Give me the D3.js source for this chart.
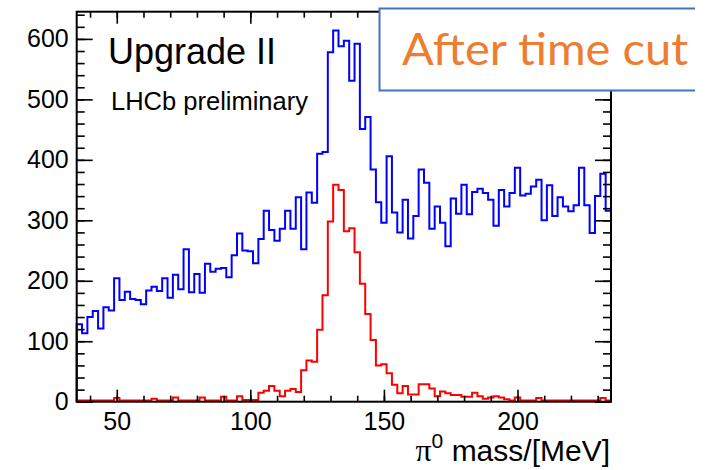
<!DOCTYPE html>
<html>
<head>
<meta charset="utf-8">
<script src="https://cdn.jsdelivr.net/npm/d3@7"></script>
<style>
  body { margin: 0; background: #fff; }
</style>
</head>
<body>
<div id="plot"></div>
<script>
// pi0 mass histograms, 100 bins of 2 MeV from 35 to 235
var binLow = 35;
var binWidth = 2;

// before time cut (blue)
var allCandidates = [128, 113, 140, 150, 121, 156, 151, 204, 168, 182,
                     170, 168, 161, 184, 190, 183, 204, 172, 210, 186,
                     252, 181, 211, 180, 228, 215, 220, 221, 206, 242,
                     278, 250, 249, 229, 269, 316, 284, 266, 286, 316,
                     286, 338, 252, 346, 329, 410, 413, 578, 614, 588,
                     597, 531, 592, 451, 471, 384, 330, 296, 406, 313,
                     280, 334, 270, 307, 384, 362, 286, 323, 296, 257,
                     336, 311, 359, 310, 347, 352, 345, 334, 291, 350,
                     323, 345, 387, 341, 344, 356, 367, 300, 358, 307,
                     338, 323, 315, 325, 387, 325, 279, 340, 377, 316];

// matched / signal-like (red)
var matchedCandidates = [2, 2, 2, 2, 2, 2, 2, 6, 2, 2,
                         2, 2, 2, 2, 5, 2, 2, 2, 7, 2,
                         2, 2, 2, 7, 2, 2, 2, 8, 2, 2,
                         9, 3, 3, 3, 15, 18, 26, 18, 9, 18,
                         21, 16, 52, 68, 66, 119, 176, 298, 359, 350,
                         282, 287, 247, 195, 145, 102, 60, 62, 47, 28,
                         14, 26, 12, 12, 29, 29, 22, 9, 17, 14,
                         11, 11, 8, 8, 15, 9, 5, 7, 9, 7,
                         4, 2, 7, 2, 2, 2, 6, 2, 2, 2,
                         2, 2, 2, 2, 2, 2, 2, 2, 6, 2];

var xMajorTicks = [50, 100, 150, 200];
var xMinorTicks = d3.range(40, 235, 10);
var yMajorTicks = [0, 100, 200, 300, 400, 500, 600];
var yMinorTicks = d3.range(0, 645, 20);

var width = 707;
var height = 470;
var frame = {left: 76.7, right: 611, top: 11.7, bottom: 401.7};

var svg = d3.select("#plot").append("svg")
    .attr("width", width)
    .attr("height", height)
    .style("display", "block");

var x = d3.scaleLinear().domain([35, 235]).range([frame.left, frame.right]);
var y = d3.scaleLinear().domain([0, 645]).range([frame.bottom, frame.top]);

// turn bin contents into an outline that starts and ends on zero
function outline(values) {
    var pts = [[binLow, 0]];
    values.forEach(function(v, i) { pts.push([binLow + i * binWidth, v]); });
    pts.push([binLow + values.length * binWidth, values[values.length - 1]]);
    pts.push([binLow + values.length * binWidth, 0]);
    return pts;
}

var stepLine = d3.line()
    .x(d => x(d[0]))
    .y(d => y(d[1]))
    .curve(d3.curveStepAfter);

svg.append("path")
    .attr("d", stepLine(outline(allCandidates)))
    .attr("fill", "none")
    .attr("stroke", "#0000ff")
    .attr("stroke-width", 2);

svg.append("path")
    .attr("d", stepLine(outline(matchedCandidates)))
    .attr("fill", "none")
    .attr("stroke", "#ff0000")
    .attr("stroke-width", 2);

// ticks point inwards on all four sides, like ROOT
var font = "'Liberation Sans', Arial, Helvetica, sans-serif";
var plotW = frame.right - frame.left;
var plotH = frame.bottom - frame.top;

function addAxis(axis, tx, ty, labels) {
    var g = svg.append("g")
        .attr("transform", "translate(" + tx + "," + ty + ")")
        .call(axis);
    g.select(".domain").remove();
    g.selectAll("line").attr("stroke", "#000").attr("stroke-width", 1.6);
    g.selectAll("text")
        .style("font-family", font)
        .style("font-size", "25px")
        .attr("fill", "#000");
    if (!labels) g.selectAll("text").remove();
    return g;
}

// bottom
addAxis(d3.axisBottom(x).tickValues(xMinorTicks).tickSize(-6), 0, frame.bottom, false);
addAxis(d3.axisBottom(x).tickValues(xMajorTicks).tickSize(-12).tickPadding(11), 0, frame.bottom, true);
// top
addAxis(d3.axisTop(x).tickValues(xMinorTicks).tickSize(-6), 0, frame.top, false);
addAxis(d3.axisTop(x).tickValues(xMajorTicks).tickSize(-12), 0, frame.top, false);
// left
addAxis(d3.axisLeft(y).tickValues(yMinorTicks).tickSize(-8), frame.left, 0, false);
addAxis(d3.axisLeft(y).tickValues(yMajorTicks).tickSize(-16).tickPadding(8), frame.left, 0, true);
// right
addAxis(d3.axisRight(y).tickValues(yMinorTicks).tickSize(-8), frame.right, 0, false);
addAxis(d3.axisRight(y).tickValues(yMajorTicks).tickSize(-16), frame.right, 0, false);

// frame
svg.append("rect")
    .attr("x", frame.left)
    .attr("y", frame.top)
    .attr("width", plotW)
    .attr("height", plotH)
    .attr("fill", "none")
    .attr("stroke", "#000")
    .attr("stroke-width", 2);

// x title, right aligned on the frame edge
var xTitle = svg.append("text")
    .attr("x", 610)
    .attr("y", 461)
    .attr("text-anchor", "end")
    .style("font-family", font)
    .style("font-size", "30px")
    .attr("fill", "#000");
xTitle.append("tspan")
    .style("font-family", "'Liberation Serif', 'DejaVu Serif', serif")
    .style("font-size", "32px")
    .text("π");
xTitle.append("tspan")
    .attr("dy", -13)
    .style("font-size", "21px")
    .text("0");
xTitle.append("tspan")
    .attr("dy", 13)
    .text(" mass/[MeV]");

// labels inside the frame
svg.append("text")
    .attr("x", 108)
    .attr("y", 64)
    .style("font-family", font)
    .style("font-size", "36px")
    .attr("fill", "#000")
    .text("Upgrade II");

svg.append("text")
    .attr("x", 111)
    .attr("y", 110)
    .style("font-family", font)
    .style("font-size", "25.5px")
    .attr("fill", "#000")
    .text("LHCb preliminary");

// slide box pasted over the top right corner
svg.append("rect")
    .attr("x", 379.5)
    .attr("y", 8.5)
    .attr("width", 340)
    .attr("height", 82)
    .attr("fill", "#fff");

svg.append("path")
    .attr("d", "M695,8.5 H379.5 V90.5 H695")
    .attr("fill", "none")
    .attr("stroke", "#4472c4")
    .attr("stroke-width", 2);

// Calibri is not available: take a taller Lato and squeeze it to the slide width
svg.append("text")
    .attr("x", 402)
    .attr("y", 65)
    .attr("textLength", 286)
    .attr("lengthAdjust", "spacingAndGlyphs")
    .style("font-family", "Lato, 'Open Sans', sans-serif")
    .style("font-size", "45px")
    .attr("fill", "#ed7d31")
    .text("After time cut");
</script>
</body>
</html>
